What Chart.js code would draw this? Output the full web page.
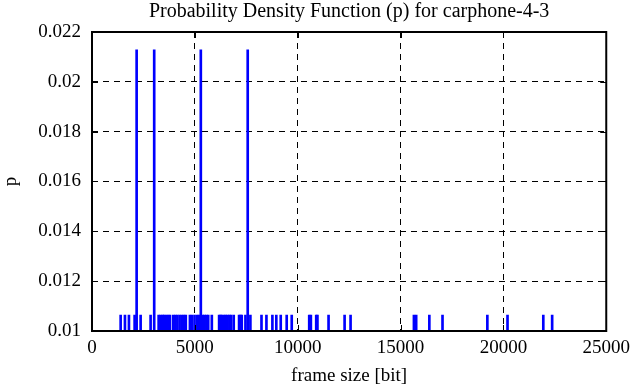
<!DOCTYPE html>
<html>
<head>
<meta charset="utf-8">
<script src="https://cdn.jsdelivr.net/npm/chart.js@4.4.1/dist/chart.umd.min.js"></script>
<style>
  html, body { margin: 0; padding: 0; background: #fff; }
  #wrap { width: 636px; height: 387px; }
</style>
</head>
<body>
<div id="wrap"><canvas id="c" width="636" height="387"></canvas></div>
<script>
// frame sizes [bit] observed in the trace
const frameSizes = [1393, 1602, 1796, 2072, 2170, 2364, 2849, 3024, 3240, 3340, 3440, 3500, 3600, 3700, 3790,
  3950, 4050, 4150, 4260, 4370, 4470, 4560, 4760, 4860, 4985, 5110, 5200, 5290, 5380, 5470, 5560, 5650,
  5825, 6180, 6250, 6310, 6420, 6500, 6590, 6680, 6760, 6890, 7150, 7220, 7280, 7460, 7570, 7700,
  8240, 8480, 8770, 8960, 9175, 9465, 9710, 10560, 10640, 10900, 10960, 11500, 12280, 12570,
  15650, 15760, 16400, 17040, 19220, 20200, 21940, 22370];
// probability p for each frame size
const probabilities = [0.01064, 0.01064, 0.01064, 0.01064, 0.02128, 0.01064, 0.01064, 0.02128, 0.01064, 0.01064, 0.01064, 0.01064, 0.01064, 0.01064, 0.01064,
  0.01064, 0.01064, 0.01064, 0.01064, 0.01064, 0.01064, 0.01064, 0.01064, 0.01064, 0.01064, 0.01064, 0.01064, 0.02128, 0.01064, 0.01064, 0.01064, 0.01064,
  0.01064, 0.01064, 0.01064, 0.01064, 0.01064, 0.01064, 0.01064, 0.01064, 0.01064, 0.01064, 0.01064, 0.01064, 0.01064, 0.01064, 0.02128, 0.01064,
  0.01064, 0.01064, 0.01064, 0.01064, 0.01064, 0.01064, 0.01064, 0.01064, 0.01064, 0.01064, 0.01064, 0.01064, 0.01064, 0.01064,
  0.01064, 0.01064, 0.01064, 0.01064, 0.01064, 0.01064, 0.01064, 0.01064];
const xTicks = [0, 5000, 10000, 15000, 20000, 25000];
const yTicks = [0.01, 0.012, 0.014, 0.016, 0.018, 0.02, 0.022];
const yTickLabels = ["0.01", "0.012", "0.014", "0.016", "0.018", "0.02", "0.022"];
const titleText = 'Probability Density Function (p) for carphone-4-3';

const FONT = "'Liberation Serif', 'Times New Roman', serif";

const points = frameSizes.map((x, i) => ({ x: x, y: probabilities[i] }));

const frameBox = {
  id: 'frameBox',
  afterDraw(chart) {
    const { ctx, chartArea: a } = chart;
    ctx.save();
    ctx.strokeStyle = '#000';
    ctx.lineWidth = 2;
    ctx.setLineDash([]);
    ctx.strokeRect(a.left, a.top, a.right - a.left, a.bottom - a.top);
    ctx.lineWidth = 1;
    const xs = chart.scales.x, ys = chart.scales.y;
    xTicks.forEach(v => {
      const px = Math.round(xs.getPixelForValue(v)) + 0.5;
      ctx.beginPath();
      ctx.moveTo(px, a.bottom); ctx.lineTo(px, a.bottom - 6);
      ctx.moveTo(px, a.top); ctx.lineTo(px, a.top + 6);
      ctx.stroke();
    });
    yTicks.forEach(v => {
      const py = Math.round(ys.getPixelForValue(v)) + 0.5;
      ctx.beginPath();
      ctx.moveTo(a.left, py); ctx.lineTo(a.left + 6, py);
      ctx.moveTo(a.right, py); ctx.lineTo(a.right - 6, py);
      ctx.stroke();
    });
    // title centred over the plot area
    ctx.fillStyle = '#000';
    ctx.font = '20px ' + FONT;
    ctx.textAlign = 'center';
    ctx.textBaseline = 'middle';
    ctx.fillText(titleText, (a.left + a.right) / 2, 12);
    ctx.restore();
  }
};

new Chart(document.getElementById('c'), {
  type: 'bar',
  data: {
    datasets: [{
      label: 'p',
      data: points,
      backgroundColor: '#0000ff',
      borderWidth: 0,
      barThickness: 2,
      grouped: false
    }]
  },
  options: {
    responsive: false,
    animation: false,
    devicePixelRatio: 1,
    layout: { padding: { left: 0, right: 29, top: 32, bottom: 0 } },
    plugins: {
      legend: { display: false },
      tooltip: { enabled: false },
      title: { display: false }
    },
    scales: {
      x: {
        type: 'linear',
        min: 0, max: 25000,
        offset: false,
        afterBuildTicks(s) { s.ticks = xTicks.map(v => ({ value: v })); },
        afterFit(s) { s.height = 56; },
        grid: {
          offset: false,
          color: (c) => (c.tick && (c.tick.value === 0 || c.tick.value === 25000)) ? 'rgba(0,0,0,0)' : '#000',
          lineWidth: 1,
          drawTicks: false
        },
        border: { display: false, dash: [6, 5] },
        ticks: {
          color: '#000',
          font: { family: FONT, size: 19 },
          padding: 6,
          maxRotation: 0,
          autoSkip: false,
          callback: (v) => String(v)
        },
        title: {
          display: true,
          text: 'frame size [bit]',
          color: '#000',
          font: { family: FONT, size: 19 },
          padding: { top: 3, bottom: 0 }
        }
      },
      y: {
        type: 'linear',
        min: 0.01, max: 0.022,
        afterBuildTicks(s) { s.ticks = yTicks.map(v => ({ value: v })); },
        afterFit(s) { s.width = 92; },
        grid: {
          color: (c) => (c.tick && (Math.abs(c.tick.value - 0.01) < 1e-9 || Math.abs(c.tick.value - 0.022) < 1e-9)) ? 'rgba(0,0,0,0)' : '#000',
          lineWidth: 1,
          drawTicks: false
        },
        border: { display: false, dash: [6, 5] },
        ticks: {
          color: '#000',
          font: { family: FONT, size: 19 },
          padding: 11,
          autoSkip: false,
          callback: (v, i) => yTickLabels[i]
        },
        title: {
          display: true,
          text: 'p',
          color: '#000',
          font: { family: FONT, size: 19 },
          padding: { top: 0, bottom: 4 }
        }
      }
    }
  },
  plugins: [frameBox]
});
</script>
</body>
</html>
